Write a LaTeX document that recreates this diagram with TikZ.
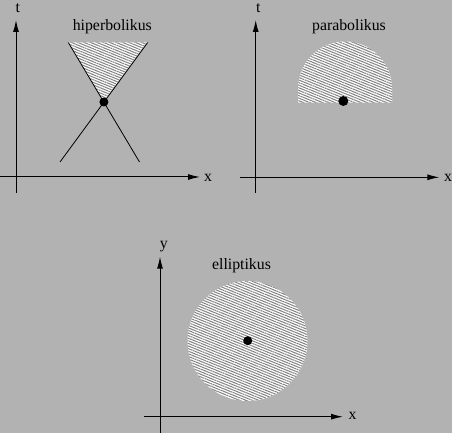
\documentclass[tikz,border=0pt]{standalone}
\usepackage{fontspec}
\setmainfont{Liberation Serif}
\usetikzlibrary{arrows.meta,patterns.meta}
\definecolor{bggray}{RGB}{178,178,178}
\definecolor{hatchgray}{RGB}{130,130,130}
\tikzset{
  axis/.style={line width=1pt,-{Latex[length=12pt,width=6pt]}},
  hatched/.style={fill=white,postaction={pattern={Lines[angle=-22,distance=2.4pt,line width=1pt]},pattern color=hatchgray}},
  lbl/.style={anchor=base,inner sep=0pt,font=\fontsize{15.8}{18}\selectfont},
  dot/.style={circle,fill=black,inner sep=0pt,minimum size=#1}
}
\begin{document}
\begin{tikzpicture}[x=1pt,y=1pt]
\fill[bggray] (0,0) rectangle (452,433);
\useasboundingbox (0,0) rectangle (452,433);
\draw[axis] (16,240)--(16,413);
\draw[axis] (0,256)--(200,256);
\node (t1) at (17.7,420.3) [lbl] {t};
\node (x1) at (208,251.5) [lbl] {x};
\node (hip) at (112.3,402.7) [lbl] {hiperbolikus};
\fill[hatched] (68.3,390.5)--(147.7,390.5)--(103.9,331)--cycle;
\draw[line width=0.8pt] (68.3,390.5)--(139.5,271);
\draw[line width=0.8pt] (147.7,390.5)--(60,271);
\node (v1) at (103.9,331) [dot=9pt] {};
\draw[axis] (255.7,240)--(255.7,413);
\draw[axis] (240,255.7)--(439.3,255.7);
\node (t2) at (258.3,420.3) [lbl] {t};
\node (x2) at (448,251.5) [lbl] {x};
\node (par) at (349,402.7) [lbl] {parabolikus};
\fill[hatched] (298,330.3)--(298,344.5) arc[start angle=180,end angle=0,radius=47]--(392,330.3)--cycle;
\node (v2) at (343.3,332) [dot=10pt] {};
\draw[axis] (160,0)--(160,176.3);
\draw[axis] (144,16.3)--(343,16.3);
\node (y3) at (163.8,184) [lbl] {y};
\node (x3) at (352.5,13) [lbl] {x};
\node (ell) at (241.5,163) [lbl] {elliptikus};
\fill[hatched] (247.5,92) circle[radius=60];
\node (v3) at (247.7,92.3) [dot=9pt] {};
\end{tikzpicture}
\end{document}
